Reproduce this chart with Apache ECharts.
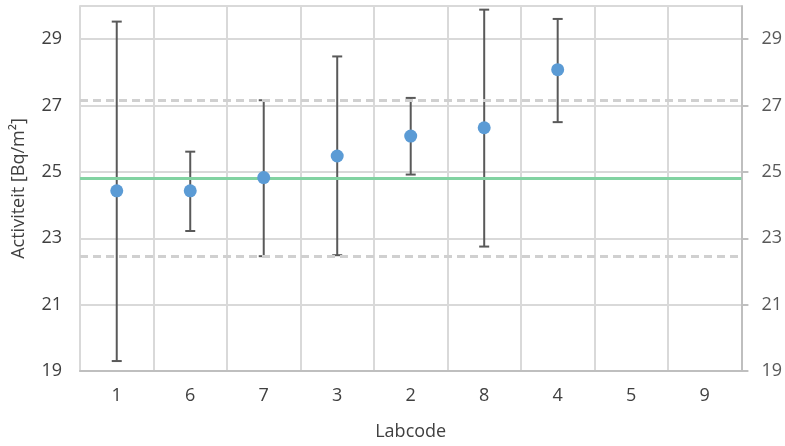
<!DOCTYPE html>
<html>
<head>
<meta charset="utf-8">
<script src="https://cdn.jsdelivr.net/npm/echarts@6/dist/echarts.min.js"></script>
<style>html,body{margin:0;padding:0;background:#fff}#c{width:785px;height:446px}</style>
</head>
<body>
<div id="c"></div>
<script>
const categories = ['1','6','7','3','2','8','4','5','9'];
const values     = [24.43, 24.43, 24.83, 25.48, 26.08, 26.33, 28.08, null, null];
const lowBounds  = [19.30, 23.22, 22.46, 22.49, 24.92, 22.75, 26.50, null, null];
const highBounds = [29.53, 25.61, 27.16, 28.48, 27.23, 29.89, 29.61, null, null];
const assignedValue = 24.8;
const upperLimit = 27.15;
const lowerLimit = 22.47;
const yTicks = [19, 21, 23, 25, 27, 29];

const FONT = 'Open Sans';
const chart = echarts.init(document.getElementById('c'), null, {renderer: 'canvas'});

const errData = categories.map((c, i) => highBounds[i] == null ? null : [i, lowBounds[i], highBounds[i]]).filter(d => d);

const yLabelFmt = v => (yTicks.indexOf(v) >= 0 ? String(v) : '');

chart.setOption({
  animation: false,
  backgroundColor: '#fff',
  grid: {left: 80, right: 43, top: 6, bottom: 72, containLabel: false},
  xAxis: {
    type: 'category',
    data: categories,
    boundaryGap: true,
    name: 'Labcode',
    nameLocation: 'middle',
    nameGap: 52,
    nameTextStyle: {fontFamily: FONT, fontSize: 18, color: '#404040'},
    axisLine: {show: true, lineStyle: {color: '#bfbfbf', width: 2}},
    axisTick: {show: false},
    axisLabel: {fontFamily: FONT, fontSize: 18, color: '#404040', margin: 16},
    splitLine: {show: true, lineStyle: {color: '#d9d9d9', width: 2}}
  },
  yAxis: [
    {
      type: 'value', min: 19, max: 30, interval: 2,
      name: 'Activiteit [Bq/m²]',
      nameLocation: 'middle',
      nameGap: 52,
      nameRotate: 90,
      nameTextStyle: {fontFamily: FONT, fontSize: 18, color: '#404040'},
      axisLine: {show: true, lineStyle: {color: '#d9d9d9', width: 2}},
      axisTick: {show: false},
      axisLabel: {fontFamily: FONT, fontSize: 18, color: '#404040', margin: 18, formatter: yLabelFmt},
      splitLine: {show: true, lineStyle: {color: '#d9d9d9', width: 2}}
    },
    {
      type: 'value', min: 19, max: 30, interval: 2, position: 'right',
      axisLine: {show: true, lineStyle: {color: '#bfbfbf', width: 2}},
      axisTick: {show: true, length: 7, customValues: yTicks, lineStyle: {color: '#bfbfbf', width: 2}},
      axisLabel: {fontFamily: FONT, fontSize: 18, color: '#595959', margin: 20, formatter: yLabelFmt},
      splitLine: {show: false}
    }
  ],
  series: [
    {
      type: 'line',
      data: [],
      markLine: {
        silent: true,
        symbol: 'none',
        label: {show: false},
        data: [
          {yAxis: assignedValue, lineStyle: {color: '#82d3a2', width: 3, type: 'solid'}},
          {yAxis: upperLimit, lineStyle: {color: '#d0d0d0', width: 3, type: [8, 5]}},
          {yAxis: lowerLimit, lineStyle: {color: '#d0d0d0', width: 3, type: [8, 5]}}
        ]
      }
    },
    {
      type: 'custom',
      data: errData,
      z: 3,
      renderItem: function (params, api) {
        const x = api.value(0);
        const lo = api.coord([x, api.value(1)]);
        const hi = api.coord([x, api.value(2)]);
        const hw = 5;
        const style = {stroke: '#595959', lineWidth: 2};
        return {
          type: 'group',
          children: [
            {type: 'line', shape: {x1: lo[0], y1: lo[1], x2: hi[0], y2: hi[1]}, style: style},
            {type: 'line', shape: {x1: lo[0] - hw, y1: lo[1], x2: lo[0] + hw, y2: lo[1]}, style: style},
            {type: 'line', shape: {x1: hi[0] - hw, y1: hi[1], x2: hi[0] + hw, y2: hi[1]}, style: style}
          ]
        };
      }
    },
    {
      type: 'scatter',
      data: values,
      z: 5,
      symbol: 'circle',
      symbolSize: 13,
      itemStyle: {color: '#5b9bd5', opacity: 1}
    }
  ]
});
</script>
</body>
</html>
